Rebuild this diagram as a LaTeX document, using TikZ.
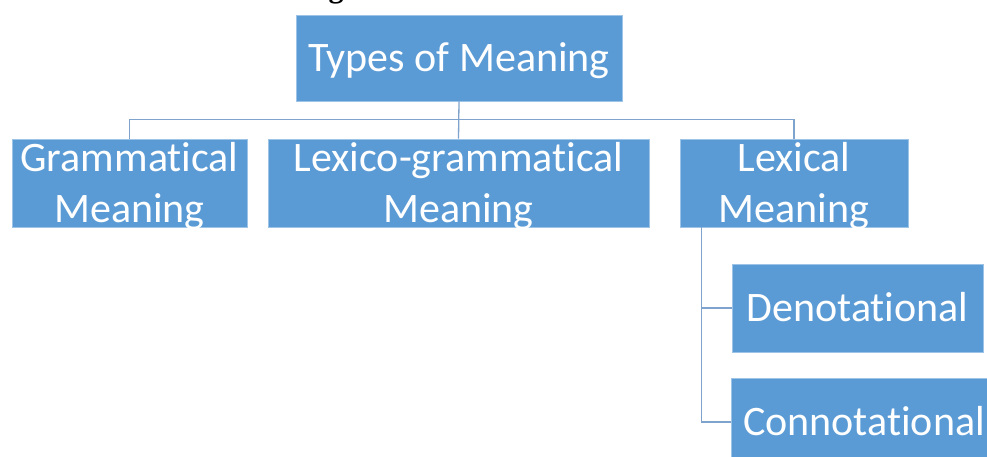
\documentclass[tikz,border=0pt]{standalone}
\usepackage{fontspec}
\setmainfont{Carlito}[Ligatures = NoCommon]
\newfontfamily\headfont{Liberation Serif}
\usepackage{tikz}

\definecolor{boxblue}{HTML}{5B9BD5}
\definecolor{linkblue}{HTML}{7FA3CC}

\begin{document}
\begin{tikzpicture}[x=1pt, y=-1pt,
        box/.style = {rectangle, fill = boxblue, draw = boxblue!60!white,
            line width = 0.6pt, inner sep = 0pt, text = white, align = center,
            font = \fontsize{42}{51}\selectfont, text height = 27pt, text depth = 0pt},
        twoline/.style = {box, text height = 78pt},
        link/.style = {draw = linkblue, line width = 1.3pt}]
        \useasboundingbox (0,0) rectangle (987,456);
        
        % cut off heading above the chart
        \node (heading) [anchor = base, font = \headfont\bfseries\fontsize{30}{36}\selectfont]
            at (336,-3) {g};
        
        \node (types) [box, minimum width = 326, minimum height = 86]
            at (459,58) {Types of Meaning};
        
        \node (gram) [twoline, minimum width = 235, minimum height = 88]
            at (129.5,183) {Grammatical\\Meaning};
        \node (lexgram) [twoline, minimum width = 381, minimum height = 88]
            at (458.5,183) {Lexico-grammatical\\Meaning};
        \node (lexical) [twoline, minimum width = 228, minimum height = 88]
            at (794,183) {Lexical\\Meaning};
        
        \node (deno) [box, minimum width = 251, minimum height = 88]
            at (857.5,308) {Denotational};
        \node (conno) [box, minimum width = 266, minimum height = 88]
            at (864,422) {Connotational};
        
        % first level
        \draw [link] (types.south) -- (lexgram.north);
        \draw [link] (gram.north) -- ++(0,-19) -| (lexical.north);
        
        % lexical meaning
        \coordinate (trunk) at ([xshift = 22pt]lexical.south west);
        \draw [link] (trunk) |- (deno.west);
        \draw [link] (trunk) |- (conno.west);
    \end{tikzpicture}
\end{document}
